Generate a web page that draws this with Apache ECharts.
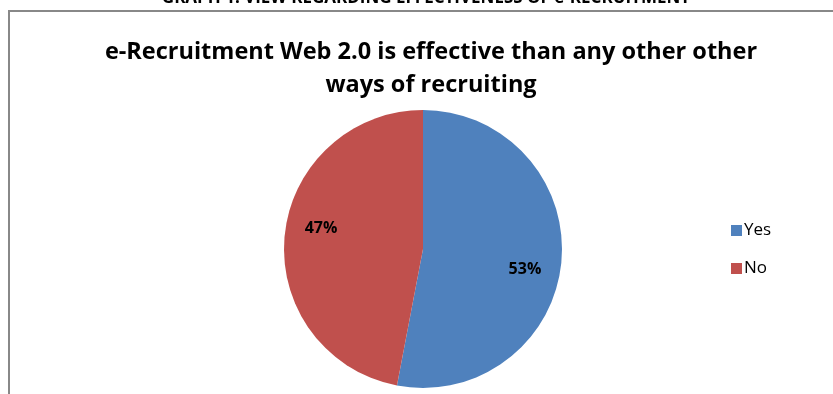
<!DOCTYPE html>
<html><head><meta charset="utf-8">
<script src="https://cdn.jsdelivr.net/npm/echarts@6/dist/echarts.min.js"></script>
<style>html,body{margin:0;padding:0;background:#fff}#c{width:833px;height:394px}</style>
</head><body><div id="c"></div>
<script>
const categories = ['Yes', 'No'];
const values = [53, 47];
const colors = ['#4F81BD', '#C0504D'];
const titleText = 'e-Recruitment Web 2.0 is effective than any other other\nways of recruiting';
const captionText = 'GRAPH 1: VIEW REGARDING EFFECTIVENESS OF e-RECRUITMENT';

const data = categories.map((c, i) => ({ name: c, value: values[i], itemStyle: { color: colors[i] } }));
const font = 'Open Sans, Noto Sans, sans-serif';
const chart = echarts.init(document.getElementById('c'));
chart.setOption({
  animation: false,
  title: {
    text: titleText, left: 426, textAlign: 'center', top: 31,
    textStyle: { fontFamily: font, fontSize: 23.5, fontWeight: 'bold', color: '#000', lineHeight: 33 }
  },
  legend: {
    orient: 'vertical', left: 726, top: 217, itemWidth: 11, itemHeight: 11, itemGap: 21,
    icon: 'rect', data: categories,
    textStyle: { fontFamily: font, fontSize: 17, color: '#000', padding: [0, 0, 0, -3] }
  },
  graphic: [
    { type: 'rect', shape: { x: 9, y: 11, width: 900, height: 500 }, style: { fill: 'none', stroke: '#888', lineWidth: 2 }, silent: true },
    { type: 'text', x: 426, y: 7, style: { text: captionText, fontFamily: font, fontSize: 17, fontWeight: 'bold', fill: '#000', textAlign: 'center', textVerticalAlign: 'bottom' } }
  ],
  series: [
    {
      type: 'pie', center: [423, 249], radius: [0, 139], startAngle: 90, clockwise: true,
      data: data, label: { show: false }, labelLine: { show: false }, silent: true
    },
    {
      type: 'pie', center: [423, 249], radius: [0, 202], startAngle: 84, clockwise: true,
      data: data.map(d => ({ name: d.name, value: d.value, itemStyle: { color: 'rgba(0,0,0,0)' } })),
      legendHoverLink: false, silent: true,
      label: { show: true, position: 'inside', formatter: '{d}%', fontFamily: font, fontSize: 16, fontWeight: 'bold', color: '#000' },
      labelLine: { show: false }
    }
  ]
});
</script></body></html>
